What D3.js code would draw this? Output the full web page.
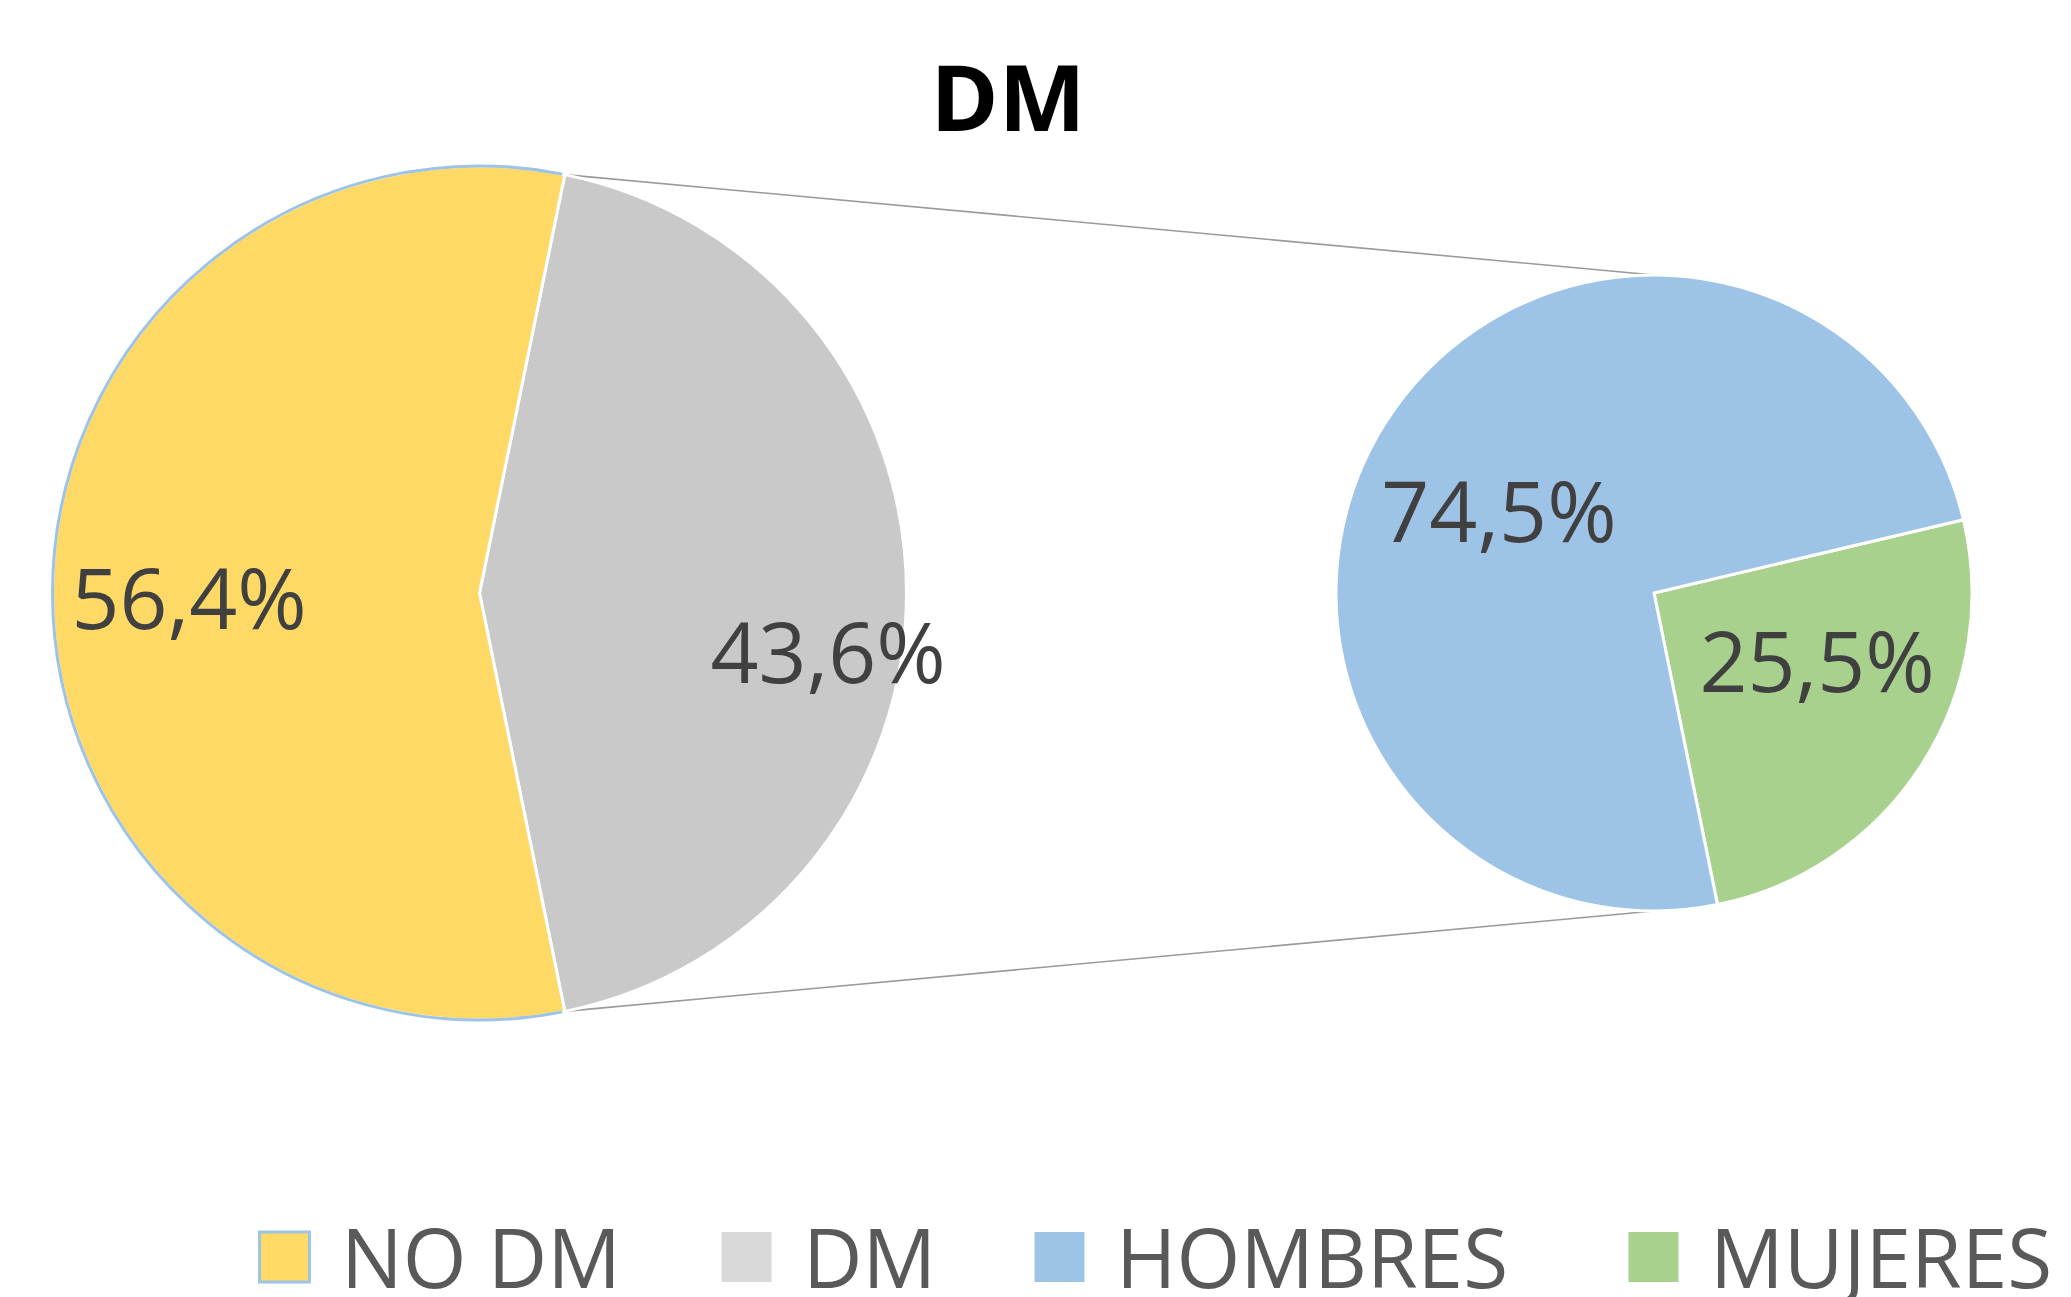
<!DOCTYPE html>
<html><head><meta charset="utf-8">
<script src="https://cdn.jsdelivr.net/npm/d3@7"></script>
<style>
html,body{margin:0;padding:0;background:#fff;}
svg{display:block;}
</style></head>
<body>
<svg id="chart" width="2071" height="1297"></svg>
<script>
// ---- data ----
const title = "DM";
const mainCategories = ["DM", "NO DM"];
const mainValues = [43.6, 56.4];
const mainColors = ["#C9C9C9", "#FFD966"];
const subCategories = ["MUJERES", "HOMBRES"];
const subValues = [25.5, 74.5];
const subColors = ["#A9D18E", "#9DC3E6"];
const legendLabels = ["NO DM", "DM", "HOMBRES", "MUJERES"];
const legendColors = ["#FFD966", "#D9D9D9", "#9DC3E6", "#A9D18E"];

const fmt = v => d3.format(".1f")(v).replace(".", ",") + "%";

const svg = d3.select("#chart");
const W = 2071, H = 1297;

// layout
const main = {cx: 479.5, cy: 593, r: 427};
const sub = {cx: 1654, cy: 593, r: 318};
const labelFont = "'Open Sans', sans-serif";

// main pie: DM slice centered on the right (90deg)
const mainTotal = d3.sum(mainValues);
const dmSweep = mainValues[0] / mainTotal * 2 * Math.PI;
const mainStart = Math.PI / 2 - dmSweep / 2;
const mainPie = d3.pie().sort(null).value(d => d)
  .startAngle(mainStart).endAngle(mainStart + 2 * Math.PI);
const mainArcs = mainPie(mainValues);
const mainArc = d3.arc().innerRadius(0).outerRadius(main.r);

// sub pie: MUJERES slice ends at same angle as DM slice end
const subTotal = d3.sum(subValues);
const mujSweep = subValues[0] / subTotal * 2 * Math.PI;
const subStart = mainArcs[0].endAngle - mujSweep;
const subPie = d3.pie().sort(null).value(d => d)
  .startAngle(subStart).endAngle(subStart + 2 * Math.PI);
const subArcs = subPie(subValues);
const subArc = d3.arc().innerRadius(0).outerRadius(sub.r);

// connector lines
const pt = (c, a, r) => [c.cx + r * Math.sin(a), c.cy - r * Math.cos(a)];
const p1 = pt(main, mainArcs[0].startAngle, main.r);
const p2 = pt(main, mainArcs[0].endAngle, main.r);
svg.append("line").attr("x1", p1[0]).attr("y1", p1[1])
  .attr("x2", sub.cx).attr("y2", sub.cy - sub.r)
  .attr("stroke", "#9a9a9a").attr("stroke-width", 1.6);
svg.append("line").attr("x1", p2[0]).attr("y1", p2[1])
  .attr("x2", sub.cx).attr("y2", sub.cy + sub.r)
  .attr("stroke", "#9a9a9a").attr("stroke-width", 1.6);

// main pie slices
const gMain = svg.append("g").attr("transform", `translate(${main.cx},${main.cy})`);
gMain.selectAll("path.slice").data(mainArcs).enter().append("path")
  .attr("class", "slice")
  .attr("d", mainArc)
  .attr("fill", (d, i) => mainColors[i])
  .attr("stroke", "#fff").attr("stroke-width", 3).attr("stroke-linejoin", "round");
// blue outline on NO DM outer arc
const outline = d3.arc().innerRadius(main.r).outerRadius(main.r);
gMain.append("path")
  .attr("d", outline({startAngle: mainArcs[1].startAngle + 0.006, endAngle: mainArcs[1].endAngle - 0.006}))
  .attr("fill", "none").attr("stroke", "#9DC3E6").attr("stroke-width", 3);

// sub pie slices
const gSub = svg.append("g").attr("transform", `translate(${sub.cx},${sub.cy})`);
gSub.selectAll("path.slice").data(subArcs).enter().append("path")
  .attr("class", "slice")
  .attr("d", subArc)
  .attr("fill", (d, i) => subColors[i])
  .attr("stroke", "#fff").attr("stroke-width", 3).attr("stroke-linejoin", "round");

// data labels (layout: radius factor and pixel nudge)
const mainLabelLayout = [{k: 0.80, dx: 7, dy: 57}, {k: 0.68, dx: 0, dy: 3}];
const subLabelLayout = [{k: 0.56, dx: 13, dy: -29}, {k: 0.56, dx: -5, dy: 12}];
function labelPos(d, r, lay) {
  const a = (d.startAngle + d.endAngle) / 2;
  return [r * lay.k * Math.sin(a) + lay.dx, -r * lay.k * Math.cos(a) + lay.dy];
}
gMain.selectAll("text.lbl").data(mainArcs).enter().append("text")
  .attr("class", "lbl")
  .attr("transform", (d, i) => { const p = labelPos(d, main.r, mainLabelLayout[i]); return `translate(${p[0]},${p[1]})`; })
  .attr("text-anchor", "middle").attr("dominant-baseline", "central")
  .attr("font-family", labelFont).attr("font-size", 84).attr("fill", "#404040")
  .text(d => fmt(d.data));
gSub.selectAll("text.lbl").data(subArcs).enter().append("text")
  .attr("class", "lbl")
  .attr("transform", (d, i) => { const p = labelPos(d, sub.r, subLabelLayout[i]); return `translate(${p[0]},${p[1]})`; })
  .attr("text-anchor", "middle").attr("dominant-baseline", "central")
  .attr("font-family", labelFont).attr("font-size", 84).attr("fill", "#404040")
  .text(d => fmt(d.data));

// title
svg.append("text").attr("x", 1008).attr("y", 95)
  .attr("text-anchor", "middle").attr("dominant-baseline", "central")
  .attr("font-family", labelFont).attr("font-weight", "bold").attr("font-size", 92)
  .attr("fill", "#000").text(title);

// legend
const legendX = [258, 720, 1033, 1627];
const legendY = 1257;
const sw = 50;
const lg = svg.append("g");
legendLabels.forEach((lab, i) => {
  lg.append("rect").attr("x", legendX[i] + 1.5).attr("y", legendY - sw / 2)
    .attr("width", sw).attr("height", sw)
    .attr("fill", legendColors[i])
    .attr("stroke", i === 0 ? "#9DC3E6" : "none").attr("stroke-width", 3);
  lg.append("text").attr("x", legendX[i] + 83).attr("y", legendY + 31)
    .attr("font-family", labelFont).attr("font-size", 82).attr("fill", "#595959")
    .text(lab);
});
</script>
</body></html>
